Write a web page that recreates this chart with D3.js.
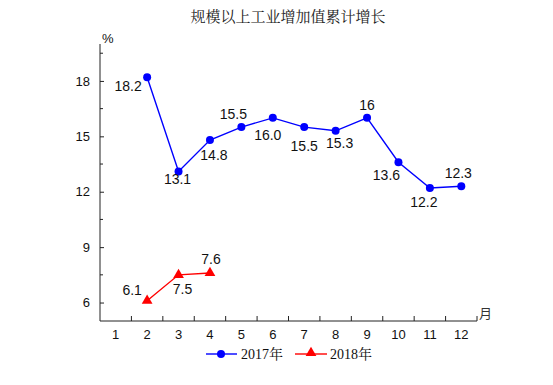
<!DOCTYPE html>
<html><head><meta charset="utf-8">
<script src="https://cdn.jsdelivr.net/npm/d3@7/dist/d3.min.js"></script>
<style>body{margin:0;background:#fff}svg{display:block}</style>
</head><body><svg id="c" width="553" height="385"></svg>
<script>
const title = "规模以上工业增加值累计增长";
const months = ["1","2","3","4","5","6","7","8","9","10","11","12"];
const yTicks = [6, 9, 12, 15, 18];
const series2017Name = "2017年";
const series2018Name = "2018年";
const months2017 = ["2","3","4","5","6","7","8","9","10","11","12"];
const values2017 = [18.2, 13.1, 14.8, 15.5, 16.0, 15.5, 15.3, 16.0, 13.6, 12.2, 12.3];
const labels2017 = ["18.2","13.1","14.8","15.5","16.0","15.5","15.3","16","13.6","12.2","12.3"];
const months2018 = ["2","3","4"];
const values2018 = [6.1, 7.5, 7.6];
const labels2018 = ["6.1","7.5","7.6"];
// label offsets (layout only)
const off2017 = [[-19,9],[-1,8],[4,15],[-8,-13],[-5,17],[0,19],[4,12],[0,-13],[-12,13],[-6,14],[-3,-13]];
const off2018 = [[-15,-11],[4,14],[1,-14]];

const svg = d3.select("#c");
const L = 100, R = 477, T = 44, B = 321;
const x = d3.scaleBand().domain(months).range([L, R]);
const y = d3.scaleLinear().domain([5, 20]).range([B, T]);
const cx = m => x(m) + x.bandwidth() / 2;
const font = "'Liberation Sans', Arial, sans-serif";

svg.append("text").attr("x", 288).attr("y", 22).attr("text-anchor", "middle")
  .attr("font-family", "'Noto Serif CJK SC','Noto Sans CJK SC',serif").attr("font-size", 15)
  .attr("fill", "#222").text(title);

// y axis
const ya = svg.append("g").attr("transform", `translate(${L},0)`)
  .call(d3.axisLeft(y).tickValues(yTicks).tickSize(-4).tickPadding(10).tickFormat(d3.format("d")));
ya.select(".domain").attr("d", `M0,${T}V${B}`);
ya.selectAll("text").attr("font-family", font).attr("font-size", 13).attr("fill", "#111");
ya.selectAll("line").attr("stroke", "#222");
ya.select(".domain").attr("stroke", "#222");
// minor y ticks
const minor = d3.range(7.5, 20, 3);
svg.append("g").selectAll("line").data(minor).join("line")
  .attr("x1", L).attr("x2", L + 3).attr("y1", d => y(d)).attr("y2", d => y(d)).attr("stroke", "#222");

// x axis
const xa = svg.append("g").attr("transform", `translate(0,${B})`)
  .call(d3.axisBottom(x).tickSize(0).tickPadding(9));
xa.select(".domain").attr("stroke", "#222").attr("d", `M${L},0H${R}`);
xa.selectAll("text").attr("font-family", font).attr("font-size", 13).attr("fill", "#111");
svg.append("g").selectAll("line").data(months.slice(1).concat(["end"])).join("line")
  .attr("x1", d => d === "end" ? R : x(d)).attr("x2", d => d === "end" ? R : x(d))
  .attr("y1", B).attr("y2", B - 5).attr("stroke", "#222");

svg.append("text").attr("x", L + 2).attr("y", 43).attr("font-family", font).attr("font-size", 13).attr("fill", "#111").text("%");
svg.append("text").attr("x", R + 2).attr("y", 318).attr("font-family", "'Noto Sans CJK SC',sans-serif").attr("font-size", 13).attr("fill", "#333").text("月");

// 2017 series
const d17 = months2017.map((m, i) => ({m, v: values2017[i], l: labels2017[i], o: off2017[i]}));
const line = d3.line().x(d => cx(d.m)).y(d => y(d.v));
svg.append("path").datum(d17).attr("d", line).attr("fill", "none").attr("stroke", "#0000ff").attr("stroke-width", 1.4);
svg.append("g").selectAll("circle").data(d17).join("circle")
  .attr("cx", d => cx(d.m)).attr("cy", d => y(d.v)).attr("r", 4).attr("fill", "#0000ff");
svg.append("g").selectAll("text").data(d17).join("text")
  .attr("x", d => cx(d.m) + d.o[0]).attr("y", d => y(d.v) + d.o[1] + 5)
  .attr("text-anchor", "middle").attr("font-family", font).attr("font-size", 14).attr("fill", "#111").text(d => d.l);

// 2018 series
const d18 = months2018.map((m, i) => ({m, v: values2018[i], l: labels2018[i], o: off2018[i]}));
svg.append("path").datum(d18).attr("d", line).attr("fill", "none").attr("stroke", "#ff0000").attr("stroke-width", 1.4);
const tri = d3.symbol().type(d3.symbolTriangle).size(50);
svg.append("g").selectAll("path").data(d18).join("path")
  .attr("transform", d => `translate(${cx(d.m)},${y(d.v)})`).attr("d", tri).attr("fill", "#ff0000");
svg.append("g").selectAll("text").data(d18).join("text")
  .attr("x", d => cx(d.m) + d.o[0]).attr("y", d => y(d.v) + d.o[1] + 5)
  .attr("text-anchor", "middle").attr("font-family", font).attr("font-size", 14).attr("fill", "#111").text(d => d.l);

// legend
const lg = svg.append("g");
const lf = "'Liberation Serif','Times New Roman','Noto Serif CJK SC',serif";
lg.append("line").attr("x1", 206).attr("x2", 237).attr("y1", 354).attr("y2", 354).attr("stroke", "#0000ff").attr("stroke-width", 1.4);
lg.append("circle").attr("cx", 221).attr("cy", 354).attr("r", 4).attr("fill", "#0000ff");
lg.append("text").attr("x", 241).attr("y", 359).attr("font-family", lf).attr("font-size", 14).attr("fill", "#111").text(series2017Name);
lg.append("line").attr("x1", 295).attr("x2", 327).attr("y1", 354).attr("y2", 354).attr("stroke", "#ff0000").attr("stroke-width", 1.4);
lg.append("path").attr("transform", "translate(311,353)").attr("d", tri).attr("fill", "#ff0000");
lg.append("text").attr("x", 330).attr("y", 359).attr("font-family", lf).attr("font-size", 14).attr("fill", "#111").text(series2018Name);
</script></body></html>
